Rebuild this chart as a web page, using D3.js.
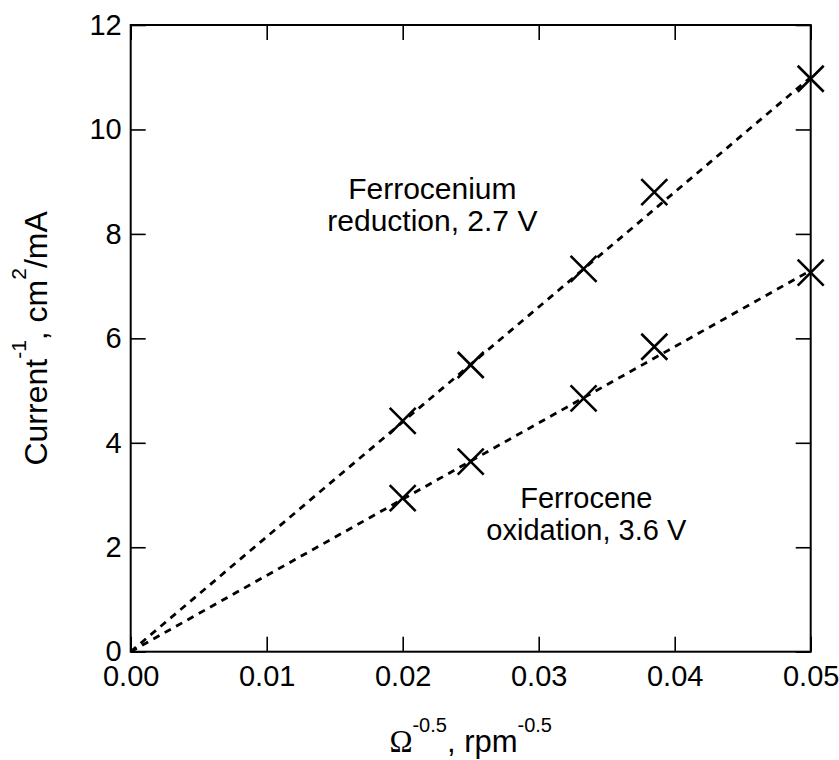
<!DOCTYPE html>
<html>
<head>
<meta charset="utf-8">
<script src="https://cdn.jsdelivr.net/npm/d3@7"></script>
<style>
  html, body { margin: 0; padding: 0; background: #fff; }
  svg { display: block; }
  text { font-family: "Liberation Sans", Arial, sans-serif; fill: #000; }
</style>
</head>
<body>
<svg id="chart" width="839" height="760"></svg>
<script>
// ---- data ----
const xValues = [0.02, 0.025, 0.0333, 0.0385, 0.05];
const reductionValues = [4.42, 5.49, 7.33, 8.80, 10.97];
const oxidationValues = [2.94, 3.64, 4.85, 5.84, 7.26];
// slopes of the dashed fit lines through the origin
const fitSlopes = [220, 146];
const xTicks = [0.00, 0.01, 0.02, 0.03, 0.04, 0.05];
const yTicks = [0, 2, 4, 6, 8, 10, 12];
const labels = [
  ["Ferrocenium", "reduction, 2.7 V"],
  ["Ferrocene", "oxidation, 3.6 V"]
];
const labelAnchors = [[0.02218, 8.66], [0.0335, 2.76]];

const svg = d3.select("#chart");
const L = 130.7, R = 810.7, T = 25, B = 651.7;
const x = d3.scaleLinear().domain([0, 0.05]).range([L, R]);
const y = d3.scaleLinear().domain([0, 12]).range([B, T]);
const tick = 15;

// axes (inward ticks on all four sides)
const gB = svg.append("g").attr("transform", `translate(0,${B})`)
  .call(d3.axisBottom(x).tickValues(xTicks).tickFormat(d3.format(".2f"))
    .tickSizeInner(-tick).tickSizeOuter(0).tickPadding(14));
const gT = svg.append("g").attr("transform", `translate(0,${T})`)
  .call(d3.axisTop(x).tickValues(xTicks).tickFormat("")
    .tickSizeInner(-tick).tickSizeOuter(0));
const gL = svg.append("g").attr("transform", `translate(${L},0)`)
  .call(d3.axisLeft(y).tickValues(yTicks).tickFormat(d3.format("d"))
    .tickSizeInner(-tick).tickSizeOuter(0).tickPadding(9));
const gR = svg.append("g").attr("transform", `translate(${R},0)`)
  .call(d3.axisRight(y).tickValues(yTicks).tickFormat("")
    .tickSizeInner(-tick).tickSizeOuter(0));
[gB, gT, gL, gR].forEach(g => {
  g.select(".domain").remove();
  g.selectAll(".tick line").attr("stroke", "#000").attr("stroke-width", 1.6);
  g.selectAll(".tick text").style("font-family", "'Liberation Sans', Arial, sans-serif")
    .style("font-size", "29px").attr("fill", "#000");
});

// frame
svg.append("rect").attr("x", L).attr("y", T).attr("width", R - L).attr("height", B - T)
  .attr("fill", "none").attr("stroke", "#000").attr("stroke-width", 2);

// dashed fit lines
fitSlopes.forEach(s => {
  svg.append("line")
    .attr("x1", x(0)).attr("y1", y(0))
    .attr("x2", x(0.05)).attr("y2", y(s * 0.05))
    .attr("stroke", "#000").attr("stroke-width", 2.8)
    .attr("stroke-dasharray", "7,6");
});

// X markers
const m = 13;
[reductionValues, oxidationValues].forEach(vals => {
  svg.append("g").selectAll("path").data(xValues.map((xv, i) => [xv, vals[i]]))
    .join("path")
    .attr("transform", d => `translate(${x(d[0])},${y(d[1])})`)
    .attr("d", `M${-m},${-m}L${m},${m}M${-m},${m}L${m},${-m}`)
    .attr("stroke", "#000").attr("stroke-width", 2.6).attr("fill", "none");
});

// annotations
labels.forEach((lines, i) => {
  const t = svg.append("text").attr("text-anchor", "middle")
    .attr("x", x(labelAnchors[i][0])).attr("y", y(labelAnchors[i][1]))
    .style("font-size", i === 0 ? "30px" : "29px");
  lines.forEach((ln, j) => {
    t.append("tspan").attr("x", x(labelAnchors[i][0])).attr("dy", j === 0 ? 0 : 32).text(ln);
  });
});

// x-axis title
const xt = svg.append("text").attr("x", (L + R) / 2).attr("y", 752)
  .attr("text-anchor", "middle").style("font-size", "31px");
xt.append("tspan").style("font-family", "'Liberation Serif', 'Times New Roman', serif").text("Ω");
xt.append("tspan").attr("dy", -20).style("font-size", "20px").text("-0.5");
xt.append("tspan").attr("dy", 20).text(", rpm");
xt.append("tspan").attr("dy", -20).style("font-size", "20px").text("-0.5");

// y-axis title
const yt = svg.append("text").attr("transform", `translate(47,${(T + B) / 2}) rotate(-90)`)
  .attr("text-anchor", "middle").style("font-size", "32px");
yt.append("tspan").text("Current");
yt.append("tspan").attr("dy", -21).style("font-size", "21px").text("-1");
yt.append("tspan").attr("dy", 21).text(", cm");
yt.append("tspan").attr("dy", -21).style("font-size", "21px").text("2");
yt.append("tspan").attr("dy", 21).text("/mA");
</script>
</body>
</html>
